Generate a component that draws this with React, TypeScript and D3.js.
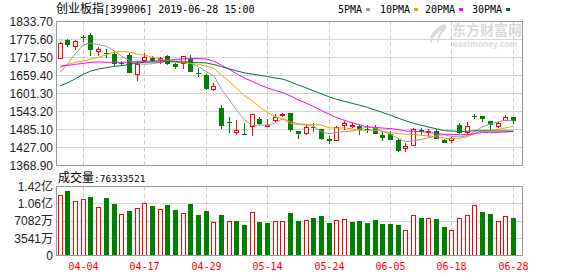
import React from "react";
import * as d3 from "d3";

// Trading days shown (2019)
const dates = [
  "04-01","04-02","04-03","04-04","04-08","04-09","04-10","04-11","04-12","04-15",
  "04-16","04-17","04-18","04-19","04-22","04-23","04-24","04-25","04-26","04-29",
  "04-30","05-06","05-07","05-08","05-09","05-10","05-13","05-14","05-15","05-16",
  "05-17","05-20","05-21","05-22","05-23","05-24","05-27","05-28","05-29","05-30",
  "05-31","06-03","06-04","06-05","06-06","06-10","06-11","06-12","06-13","06-14",
  "06-17","06-18","06-19","06-20","06-21","06-24","06-25","06-26","06-27","06-28",
];

const openPrices = [
  1713.7,1772.9,1750.3,1784.7,1790.1,1736.3,1733.1,1729.8,1700.2,1726.6,
  1659.9,1705.1,1716.9,1708.3,1721.2,1697.6,1696.5,1713.7,1668.5,1662.1,
  1612.5,1554.5,1509.3,1472.7,1471.6,1492.0,1517.9,1498.0,1511.4,1529.7,
  1537.2,1480.2,1471.6,1494.2,1486.7,1453.3,1449.0,1497.4,1494.2,1497.4,
  1486.7,1488.8,1468.4,1471.6,1451.2,1423.2,1432.9,1484.5,1472.7,1480.2,
  1451.2,1449.0,1500.6,1472.7,1529.7,1527.6,1511.4,1492.0,1513.6,1524.3,
];
const highPrices = [
  1767.5,1776.1,1773.9,1791.2,1796.5,1752.4,1743.8,1736.3,1705.0,1730.9,
  1704.0,1730.9,1721.2,1718.0,1726.6,1700.8,1722.3,1726.6,1684.6,1663.1,
  1636.2,1563.1,1524.3,1515.7,1505.0,1535.1,1524.3,1517.9,1535.0,1538.3,
  1537.9,1481.3,1503.9,1505.0,1487.7,1465.1,1496.4,1511.4,1506.0,1500.6,
  1498.5,1499.6,1479.1,1479.1,1453.3,1440.4,1491.0,1488.8,1485.6,1487.7,
  1454.4,1461.9,1505.0,1510.3,1534.0,1528.6,1511.4,1510.3,1530.8,1525.4,
];
const lowPrices = [
  1713.0,1752.4,1742.7,1766.4,1723.4,1723.4,1716.9,1690.0,1690.0,1668.0,
  1642.7,1704.0,1701.9,1695.4,1694.3,1681.4,1681.4,1671.0,1655.6,1612.5,
  1610.4,1487.7,1474.8,1468.4,1468.4,1465.1,1498.5,1492.0,1510.0,1524.3,
  1475.9,1453.3,1468.4,1478.1,1452.2,1439.3,1446.9,1484.5,1491.0,1468.4,
  1474.8,1470.5,1449.0,1450.1,1413.5,1411.3,1431.8,1467.3,1461.9,1453.3,
  1440.4,1440.4,1470.5,1467.3,1517.9,1510.3,1482.4,1491.0,1512.5,1501.7,
];
const closePrices = [
  1764.3,1757.8,1769.6,1782.5,1742.7,1743.8,1730.9,1697.6,1698.1,1668.5,
  1697.6,1719.1,1707.2,1716.9,1697.6,1687.9,1721.2,1671.7,1663.1,1615.8,
  1624.4,1496.4,1507.1,1483.4,1469.4,1534.0,1502.8,1501.0,1526.5,1535.1,
  1483.4,1470.5,1493.1,1491.0,1453.3,1449.0,1492.0,1506.0,1500.6,1484.5,
  1483.5,1471.6,1457.6,1451.2,1416.7,1431.8,1486.7,1478.1,1480.2,1454.4,
  1442.6,1456.5,1472.7,1497.4,1526.5,1517.9,1500.6,1506.0,1524.3,1513.6,
];

const volumes = [
  123180000,131390000,112240000,116340000,119070000,98540000,117020000,104700000,84170000,90330000,
  96490000,108130000,100600000,95810000,102650000,92390000,86230000,104700000,82120000,90330000,
  67750000,82120000,71170000,69800000,61590000,88280000,67750000,65700000,71170000,71170000,
  86230000,69800000,71860000,75960000,80070000,66380000,73230000,75280000,67750000,69800000,
  66380000,71860000,63640000,63640000,61590000,52700000,83490000,75960000,75960000,73910000,
  57480000,52700000,77330000,83490000,104020000,88280000,84860000,71170000,81440000,76333521,
];

const ma5 = [
  1669.7,1698.6,1730.9,1757.8,1763.4,1759.3,1753.9,1739.5,1722.1,1707.2,
  1698.0,1695.6,1697.6,1701.9,1707.7,1705.7,1706.2,1699.1,1688.3,1671.9,
  1659.2,1614.3,1581.4,1545.4,1516.1,1498.1,1499.3,1498.5,1507.1,1520.3,
  1510.2,1503.7,1501.7,1494.6,1478.3,1471.4,1475.7,1478.3,1480.2,1486.4,
  1493.5,1489.4,1479.8,1469.9,1456.3,1445.8,1448.8,1452.9,1458.7,1466.2,
  1468.4,1462.4,1461.3,1464.7,1479.1,1494.2,1503.0,1509.7,1515.1,1512.5,
];
const ma10 = [
  1684.6,1695.4,1701.9,1706.2,1712.6,1718.0,1726.6,1734.1,1736.3,1735.3,
  1728.6,1724.8,1718.5,1712.0,1707.5,1701.9,1700.9,1698.3,1695.1,1689.8,
  1682.5,1660.2,1640.2,1616.9,1594.0,1578.7,1556.8,1539.9,1526.3,1518.2,
  1504.1,1501.5,1500.1,1500.9,1499.3,1490.8,1489.7,1490.0,1487.4,1482.3,
  1482.5,1482.6,1479.0,1475.0,1471.4,1469.7,1469.1,1466.3,1464.3,1461.3,
  1457.1,1455.6,1457.1,1461.7,1472.7,1481.3,1482.7,1485.5,1489.9,1495.8,
];
const ma20 = [
  1690.0,1692.2,1695.4,1698.6,1701.9,1703.0,1701.9,1701.9,1701.9,1703.0,
  1704.0,1705.1,1706.2,1707.2,1709.0,1711.0,1713.0,1714.0,1714.0,1712.6,
  1705.6,1692.5,1679.4,1664.4,1650.8,1640.3,1628.9,1619.1,1610.7,1604.0,
  1593.3,1580.9,1570.2,1558.9,1546.7,1534.7,1523.3,1515.0,1506.8,1500.3,
  1493.3,1492.0,1489.6,1488.0,1485.3,1480.2,1479.4,1478.2,1475.8,1471.8,
  1469.8,1469.1,1468.1,1468.4,1472.0,1475.5,1475.9,1475.9,1477.1,1478.5,
];
const ma30 = [
  1626.5,1636.2,1649.1,1663.1,1673.9,1680.3,1684.6,1688.9,1691.1,1695.4,
  1699.7,1701.9,1703.0,1703.0,1704.0,1704.0,1703.0,1702.0,1701.0,1700.0,
  1695.0,1688.0,1681.0,1674.0,1668.0,1664.0,1660.0,1656.0,1651.0,1647.8,
  1638.4,1628.8,1619.6,1609.9,1600.3,1590.4,1582.5,1576.1,1569.6,1563.5,
  1556.4,1548.1,1539.8,1530.9,1521.6,1513.0,1505.2,1498.8,1492.7,1487.3,
  1481.2,1479.9,1478.7,1479.2,1481.1,1480.6,1480.5,1480.6,1480.5,1479.8,
];

const priceTicks = [1833.7, 1775.6, 1717.5, 1659.4, 1601.3, 1543.2, 1485.1, 1427.0, 1368.9];
const volumeTicks = [141640000, 106230000, 70820000, 35410000, 0];
const volumeTickLabels = ["1.42亿", "1.06亿", "7082万", "3541万", "0"];
const dateTicks = ["04-04", "04-17", "04-29", "05-14", "05-24", "06-05", "06-18", "06-28"];

const legendItems = [
  { name: "5PMA", color: "#9a9a9a", values: ma5 },
  { name: "10PMA", color: "#f3a200", values: ma10 },
  { name: "20PMA", color: "#ff00ff", values: ma20 },
  { name: "30PMA", color: "#00703a", values: ma30 },
];

const UP = "#ff0000";
const DOWN = "#008000";
const GRID = "#d4d4d4";
const FRAME = "#999999";
const MONO = "'DejaVu Sans Mono', 'Liberation Mono', monospace";
const CJK = "'Noto Sans CJK SC', sans-serif";
const SANS = "'Liberation Sans', Arial, sans-serif";

export default function App() {
  const W = 578;
  const H = 276;
  const left = 56.5;
  const right = 522.5;
  const pTop = 21.5;
  const pBottom = 165.5;
  const vTop = 186.5;
  const vBottom = 255.5;

  const x = d3.scaleBand<string>().domain(dates).range([56.4, 517.2]).padding(0);
  const cx = (i: number) => (x(dates[i]) as number) + x.bandwidth() / 2;
  const y = d3.scaleLinear().domain([1368.9, 1833.7]).range([pBottom, pTop]);
  const yv = d3.scaleLinear().domain([0, 141640000]).range([vBottom, vTop]);

  const snap = (v: number) => Math.round(v - 0.5) + 0.5;

  const candles = dates.map((d, i) => {
    const o = openPrices[i];
    const c = closePrices[i];
    const up = c > o;
    const color = up ? UP : DOWN;
    const l = Math.round(cx(i) - 2.5);
    const mid = l + 2.5;
    const top = Math.round(y(Math.max(o, c)));
    const bot = Math.round(y(Math.min(o, c)));
    const hi = Math.round(y(highPrices[i]));
    const lo = Math.round(y(lowPrices[i]));
    if (up) {
      return (
        <g key={d}>
          <line x1={mid} x2={mid} y1={hi} y2={top} stroke={color} />
          <line x1={mid} x2={mid} y1={bot} y2={lo} stroke={color} />
          <rect x={l + 0.5} y={top + 0.5} width={4} height={Math.max(bot - top - 1, 0.5)} fill="#fff" stroke={color} />
        </g>
      );
    }
    return (
      <g key={d}>
        <line x1={mid} x2={mid} y1={hi} y2={lo} stroke={color} />
        <rect x={l} y={top} width={5} height={Math.max(bot - top, 1)} fill={color} />
      </g>
    );
  });

  const volBars = dates.map((d, i) => {
    const up = i === 0 ? closePrices[i] >= openPrices[i] : closePrices[i] >= closePrices[i - 1];
    const l = Math.round(cx(i) - 2.5);
    const top = Math.round(yv(volumes[i]));
    const base = Math.round(yv(0));
    if (up) {
      return (
        <rect key={d} x={l + 0.5} y={top + 0.5} width={4} height={base - top - 1} fill="#fff" stroke={UP} />
      );
    }
    return <rect key={d} x={l} y={top} width={5} height={base - top} fill={DOWN} />;
  });

  const line = d3
    .line<number>()
    .x((_, i) => cx(i))
    .y((v) => y(v));

  const dashX = dateTicks.map((t) => snap(cx(dates.indexOf(t))));

  // legend layout: text start positions
  const legendX = [338, 380, 425, 472];

  return (
    <svg
      width={W}
      height={H}
      style={{ position: "absolute", left: 0, top: 0, background: "#fff" }}
      xmlns="http://www.w3.org/2000/svg"
    >
      <defs>
        <clipPath id="plotClip">
          <rect x={left} y={pTop} width={right - left} height={pBottom - pTop} />
        </clipPath>
      </defs>
      <rect x={0} y={0} width={W} height={H} fill="#fff" />

      {/* title */}
      <text x={56} y={13} fontFamily={CJK} fontSize={12} fill="#000">创业板指</text>
      <text x={104} y={12.5} fontFamily={MONO} fontSize={10} fill="#000">[399006] 2019-06-28 15:00</text>

      {/* legend */}
      {legendItems.map((it, k) => (
        <g key={it.name}>
          <text x={legendX[k]} y={12.5} fontFamily={MONO} fontSize={10} fill="#000">{it.name}</text>
          <rect x={legendX[k] + it.name.length * 6.02 + 4} y={8} width={4} height={3} fill={it.color} />
        </g>
      ))}

      {/* watermark */}
      <g clipPath="url(#plotClip)" fill="#dadada">
        <path d="M445,24 C436,27 428,34 431,44 C432,38 436,33 443,30 C438,34 436,39 438,44 C439,37 443,31 447,28 Z" />
        <text x={452} y={35} fontFamily={CJK} fontSize={14} fontWeight="bold">东方财富网</text>
        <text x={453} y={46.5} fontFamily={SANS} fontSize={8.6} fontWeight="bold">eastmoney.com</text>
      </g>

      {/* price grid */}
      {priceTicks.slice(1, -1).map((t) => (
        <line key={t} x1={left} x2={right} y1={snap(y(t))} y2={snap(y(t))} stroke={GRID} />
      ))}
      {/* volume grid */}
      {volumeTicks.slice(1, -1).map((t) => (
        <line key={t} x1={left} x2={right} y1={snap(yv(t))} y2={snap(yv(t))} stroke={GRID} />
      ))}
      {/* date guides */}
      {dashX.map((dx, k) => (
        <g key={k} stroke="#cccccc" strokeDasharray="4,3">
          <line x1={dx} x2={dx} y1={pTop} y2={pBottom} />
          <line x1={dx} x2={dx} y1={vTop} y2={vBottom} />
        </g>
      ))}

      {/* candles */}
      <g shapeRendering="crispEdges">{candles}</g>

      {/* moving averages */}
      <g clipPath="url(#plotClip)" fill="none" strokeWidth={1}>
        {legendItems.map((it) => (
          <path key={it.name} d={line(it.values) || ""} stroke={it.color} />
        ))}
      </g>

      {/* volume */}
      <g shapeRendering="crispEdges">{volBars}</g>

      {/* frames */}
      <rect x={left} y={pTop} width={right - left} height={pBottom - pTop} fill="none" stroke={FRAME} shapeRendering="crispEdges" />
      <rect x={left} y={vTop} width={right - left} height={vBottom - vTop} fill="none" stroke={FRAME} shapeRendering="crispEdges" />

      {/* price axis labels */}
      {priceTicks.map((t) => (
        <text key={t} x={53} y={y(t)} dy="0.36em" textAnchor="end" fontFamily={SANS} fontSize={12} fill="#222">
          {t.toFixed(2)}
        </text>
      ))}

      {/* volume header */}
      <text x={58} y={181.5} fontFamily={CJK} fontSize={12} fill="#000">成交量</text>
      <text x={94} y={181.5} fontFamily={MONO} fontSize={9.5} fill="#000">:76333521</text>

      {/* volume axis labels */}
      {volumeTicks.map((t, k) => (
        <text key={t} x={53} y={yv(t)} dy="0.36em" textAnchor="end" fontSize={12} fill="#222">
          <tspan fontFamily={SANS}>{volumeTickLabels[k].replace(/[亿万]/, "")}</tspan>
          <tspan fontFamily={CJK}>{volumeTickLabels[k].replace(/[^亿万]/g, "")}</tspan>
        </text>
      ))}

      {/* date labels */}
      {dateTicks.map((t, k) => (
        <text key={t} x={dashX[k]} y={270} textAnchor="middle" fontFamily={MONO} fontSize={10} fill={UP}>
          {t}
        </text>
      ))}
    </svg>
  );
}
